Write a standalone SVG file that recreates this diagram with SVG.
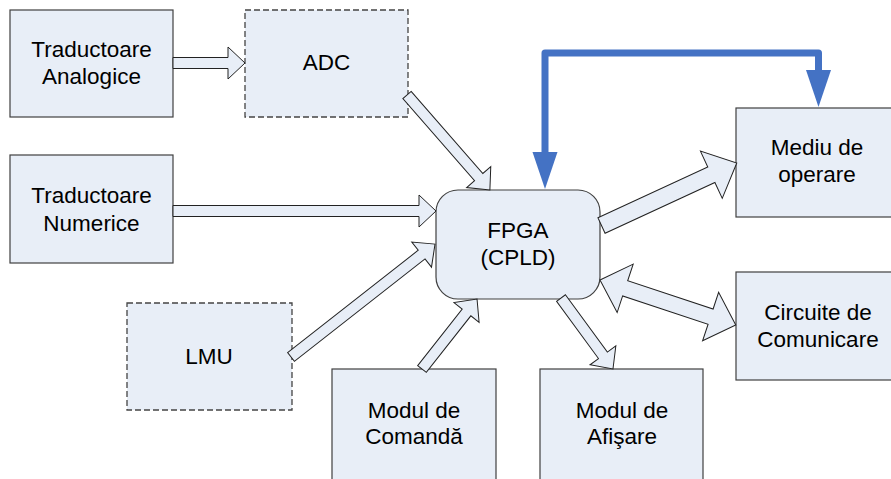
<svg xmlns="http://www.w3.org/2000/svg" width="891" height="479" viewBox="0 0 891 479">
<style>
.box{fill:#E8EEF7;stroke:#404040;stroke-width:1.2}
.dbox{fill:#E8EEF7;stroke:#444;stroke-width:1.3;stroke-dasharray:6,3}
.arr{fill:#E8EEF7;stroke:#222;stroke-width:1}
.t{font-family:"Liberation Sans",Arial,sans-serif;font-size:22.5px;fill:#000;text-anchor:middle}
.blue{fill:none;stroke:#4472C4;stroke-width:7;stroke-linejoin:round}
</style>
<defs>
<marker id="bh" markerUnits="userSpaceOnUse" markerWidth="40" markerHeight="30" refX="0" refY="12.5" orient="auto-start-reverse" viewBox="0 0 40 25" overflow="visible">
<path d="M0,0 L37,12.5 L0,25 z" fill="#4472C4"/>
</marker>
</defs>
<rect width="891" height="479" fill="#fff"/>
<g id="traductoare-analogice"><rect class="box" x="10" y="10" width="163" height="107"/><text class="t" x="91.5" y="57">Traductoare</text><text class="t" x="91.5" y="84">Analogice</text></g>
<g id="adc"><rect class="dbox" x="245" y="10" width="163" height="107"/><text class="t" x="326.5" y="70">ADC</text></g>
<g id="traductoare-numerice"><rect class="box" x="10" y="155" width="163" height="108"/><text class="t" x="91.5" y="203">Traductoare</text><text class="t" x="91.5" y="231">Numerice</text></g>
<g id="lmu"><rect class="dbox" x="127" y="303" width="165" height="107"/><text class="t" x="209" y="364">LMU</text></g>
<g id="fpga"><rect class="box" x="436" y="190" width="164" height="109" rx="22" ry="22"/><text class="t" x="518" y="238">FPGA</text><text class="t" x="518" y="265">(CPLD)</text></g>
<g id="mediu"><rect class="box" x="736" y="108" width="160" height="109"/><text class="t" x="817" y="155">Mediu de</text><text class="t" x="817" y="182">operare</text></g>
<g id="circuite"><rect class="box" x="736" y="272" width="160" height="108"/><text class="t" x="818" y="320">Circuite de</text><text class="t" x="818" y="347">Comunicare</text></g>
<g id="comanda"><rect class="box" x="332" y="369" width="164" height="112"/><text class="t" x="414" y="418">Modul de</text><text class="t" x="414" y="444">Comandă</text></g>
<g id="afisare"><rect class="box" x="540" y="369" width="163" height="112"/><text class="t" x="622" y="418">Modul de</text><text class="t" x="622" y="444">Afişare</text></g>
<g id="connectors">
<polygon class="arr" transform="translate(173,63)" points="0,-5.5 55,-5.5 55,-16 72,0 55,16 55,5.5 0,5.5"/>
<polygon class="arr" transform="translate(173,211)" points="0,-5.5 246,-5.5 246,-16 263,0 246,16 246,5.5 0,5.5"/>
<polygon class="arr" transform="translate(407,95) rotate(48.86)" points="0,-5.5 109,-5.5 109,-16 126,0 109,16 109,5.5 0,5.5"/>
<polygon class="arr" transform="translate(291,357) rotate(-38.1)" points="0,-5.5 166,-5.5 166,-16 183,0 166,16 166,5.5 0,5.5"/>
<polygon class="arr" transform="translate(422,369) rotate(-51.8)" points="0,-5.5 72,-5.5 72,-16 89,0 72,16 72,5.5 0,5.5"/>
<polygon class="arr" transform="translate(561,298) rotate(53.8)" points="0,-5.5 71,-5.5 71,-16 88,0 71,16 71,5.5 0,5.5"/>
<polygon class="arr" transform="translate(601.5,225.5) rotate(-24.8)" points="0,-8.5 121,-8.5 121,-26 149,0 121,26 121,8.5 0,8.5"/>
<polygon class="arr" transform="translate(600,280) rotate(18.31)" points="0,0 26.5,-25.5 26.5,-8 116.5,-8 116.5,-25.5 143,0 116.5,25.5 116.5,8 26.5,8 26.5,25.5"/>
<path class="blue" d="M545,152 V53 H818.5 V70" marker-start="url(#bh)" marker-end="url(#bh)"/>
</g>
</svg>
